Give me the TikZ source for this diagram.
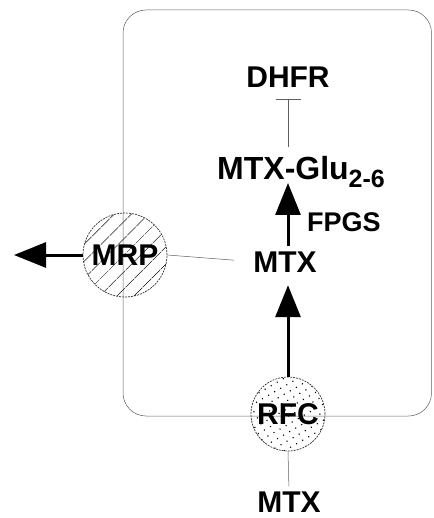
\documentclass[tikz,border=0pt]{standalone}
\usepackage{fontspec}
\setmainfont{Liberation Sans}
\usetikzlibrary{positioning, arrows.meta, patterns.meta}
\definecolor{MembraneGray}{RGB}{95, 95, 95}

\begin{document}
\begin{tikzpicture}[
    x=1pt, y=-1pt,
    font=\bfseries\fontsize{30}{30}\selectfont,
    labelstyle/.style={inner sep=0pt, anchor=base},
    carrierstyle/.style={circle, draw=black!80, dash pattern=on 2pt off 1pt, line width=0.7pt, inner sep=0pt},
    arrowstyle/.style={-{Triangle[length=32pt, width=25pt]}, line width=3pt},
    linkstyle/.style={draw=MembraneGray, line width=0.5pt},
    inhibstyle/.style={-{Bar[width=25pt, line width=1.2pt]}, draw=MembraneGray, line width=0.5pt}
]
    \useasboundingbox (0,0) rectangle (433,518);

    % Cell membrane
    \draw [linkstyle, rounded corners=23pt] (123,10) rectangle (431.5,416);

    % Transporters
    \node (mrp) [carrierstyle, minimum size=84pt, pattern={Lines[angle=45, distance=13pt, line width=0.8pt]}] at (125,255) {MRP};
    \node (rfc) [carrierstyle, minimum size=74pt, pattern={Dots[distance=7pt, radius=0.8pt, angle=30]}] at (288,414) {RFC};

    % Metabolites and enzymes
    \node (dhfr) [labelstyle] at (288,88) {DHFR};
    \node (mtxglu) [labelstyle, anchor=base west, font=\bfseries\fontsize{32}{32}\selectfont] at (217,180) {MTX-Glu\raisebox{-8pt}{\fontsize{25}{25}\selectfont 2-6}};
    \node (fpgs) [labelstyle, anchor=base west, font=\bfseries\fontsize{27}{27}\selectfont] at (307,232) {FPGS};
    \node (mtx) [labelstyle] at (285,272) {MTX};
    \node (mtxout) [labelstyle] at (289,512) {MTX};
    \coordinate (efflux) at (14,255);

    % Connections
    \draw [arrowstyle] (rfc.north) -- (rfc.north |- mtx.south) [shorten >=13pt];
    \draw [arrowstyle] ([yshift=5pt]rfc.north |- mtx.north) -- ([yshift=-3pt]rfc.north |- mtxglu.base);
    \draw [arrowstyle] (mrp.west) -- (efflux);

    \draw [linkstyle] (mrp.east) -- (mtx.west) [shorten >=19pt];
    \draw [linkstyle] (rfc.south) -- (mtxout.north) [shorten >=5pt];
    \draw [inhibstyle] ([yshift=10pt]dhfr.south |- mtxglu.north) -- ([yshift=-11pt]dhfr.south);

\end{tikzpicture}
\end{document}
